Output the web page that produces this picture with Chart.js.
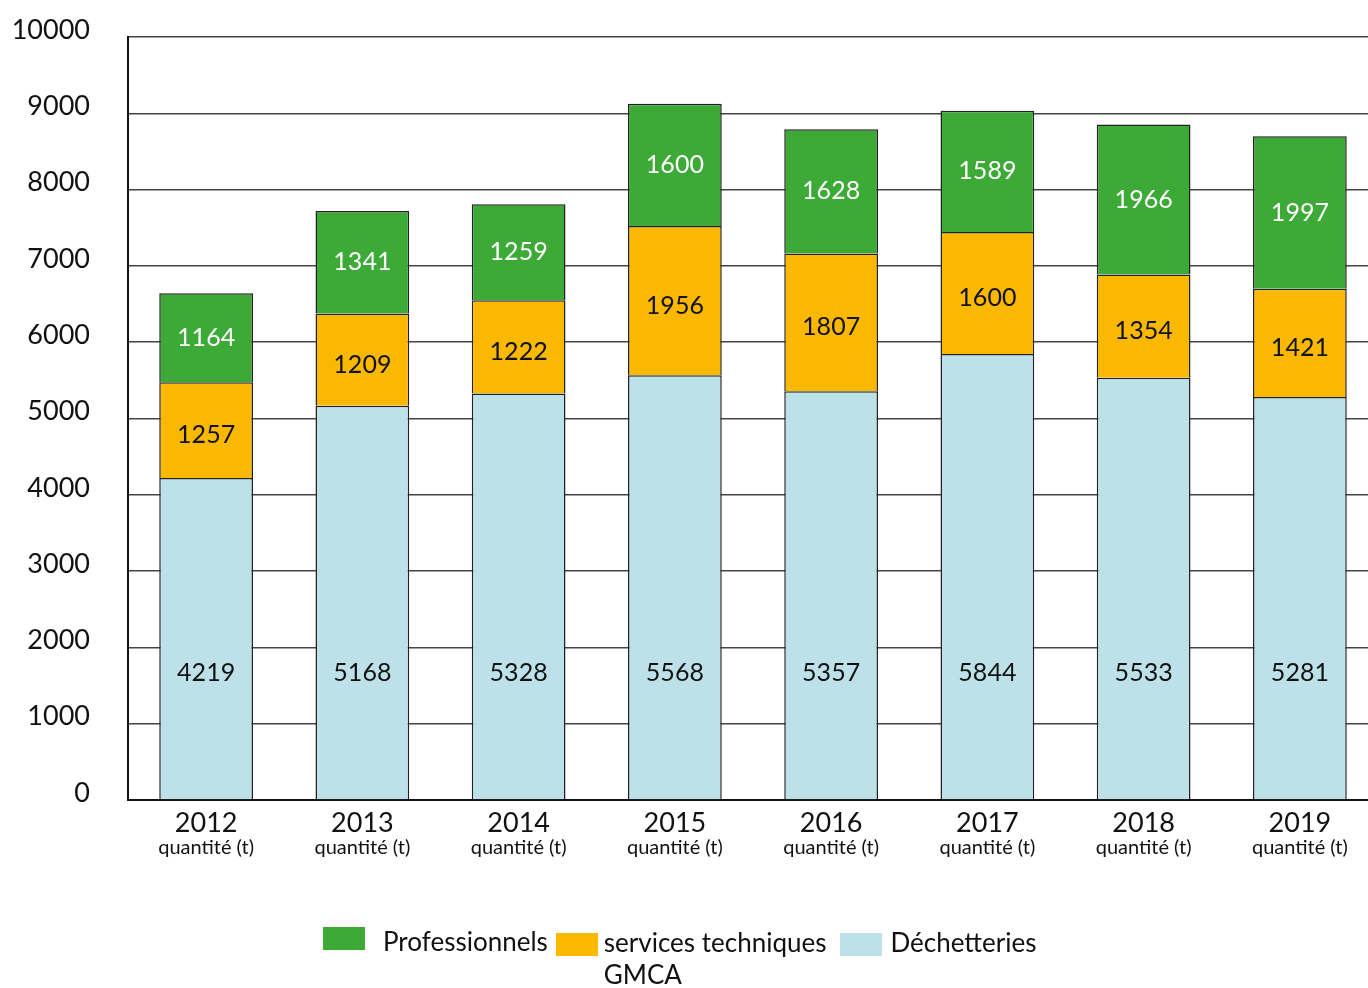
<!DOCTYPE html>
<html>
<head>
<meta charset="utf-8">
<script src="https://cdn.jsdelivr.net/npm/chart.js@4"></script>
<style>
  body { margin: 0; background: #fff; }
  #wrap { position: relative; width: 1368px; height: 988px; overflow: hidden; }
  #legende { position: absolute; left: 323px; top: 927px; display: flex; align-items: flex-start;
    font-family: Lato, sans-serif; font-size: 26px; color: #111; }
  .item { display: flex; align-items: flex-start; }
  .carre { width: 42px; height: 23px; flex: none; }
  .texte { line-height: 32px; }
</style>
</head>
<body>
<div id="wrap">
  <canvas id="graphique" width="1378" height="988"></canvas>
  <div id="legende"></div>
</div>
<script>
const annees = ['2012', '2013', '2014', '2015', '2016', '2017', '2018', '2019'];
const sousTitre = 'quantité (t)';
const dechetteries = [4219, 5168, 5328, 5568, 5357, 5844, 5533, 5281];
const servicesTechniques = [1257, 1209, 1222, 1956, 1807, 1600, 1354, 1421];
const professionnels = [1164, 1341, 1259, 1600, 1628, 1589, 1966, 1997];
const graduations = [0, 1000, 2000, 3000, 4000, 5000, 6000, 7000, 8000, 9000, 10000];

const police = 'Lato, sans-serif';

// etiquettes des valeurs dans les barres
const etiquettes = {
    id: 'etiquettes',
    afterDatasetsDraw(chart) {
        const ctx = chart.ctx;
        const y = chart.scales.y;
        ctx.save();
        ctx.font = '25px ' + police;
        ctx.textAlign = 'center';
        ctx.textBaseline = 'middle';
        chart.data.datasets.forEach((ds, i) => {
            chart.getDatasetMeta(i).data.forEach((bar, j) => {
                let py;
                if (i === 0) {
                    py = y.getPixelForValue(1660);
                } else {
                    py = (bar.y + bar.base) / 2 + (i === 1 ? 5 : 0);
                }
                ctx.fillStyle = i === 2 ? '#fff' : '#111';
                ctx.fillText(ds.data[j], bar.x, py);
            });
        });
        ctx.restore();
    },
    afterDraw(chart) {
        const ctx = chart.ctx;
        const x = chart.scales.x;
        ctx.save();
        ctx.font = '20px ' + police;
        ctx.textAlign = 'center';
        ctx.textBaseline = 'middle';
        ctx.fillStyle = '#111';
        annees.forEach((a, i) => {
            ctx.fillText(sousTitre, x.getPixelForTick(i), 848);
        });
        ctx.restore();
    }
};

const ctx = document.getElementById('graphique').getContext('2d');
const graphique = new Chart(ctx, {
    type: 'bar',
    data: {
        labels: annees,
        datasets: [{
            label: 'Déchetteries',
            data: dechetteries,
            backgroundColor: '#BDE1E8',
            borderColor: '#222',
            borderWidth: 1.5
        }, {
            label: 'services techniques\nGMCA',
            data: servicesTechniques,
            backgroundColor: '#FAB800',
            borderColor: '#222',
            borderWidth: 1.5
        }, {
            label: 'Professionnels',
            data: professionnels,
            backgroundColor: '#3DAA37',
            borderColor: '#222',
            borderWidth: 1.5
        }]
    },
    options: {
        responsive: false,
        animation: false,
        layout: { padding: { top: 37, right: 0, left: 0, bottom: 0 } },
        plugins: {
            legend: { display: false },
            tooltip: { enabled: false }
        },
        datasets: { bar: { categoryPercentage: 1, barPercentage: 0.6 } },
        scales: {
            x: {
                stacked: true,
                grid: { display: false, drawTicks: false },
                border: { color: '#111', width: 2 },
                ticks: { color: '#111', font: { family: police, size: 27 }, padding: 7 },
                afterFit(s) { s.height = 188; s.paddingLeft = 0; s.paddingRight = 0; }
            },
            y: {
                stacked: true,
                min: 0,
                max: 10000,
                afterBuildTicks(s) { s.ticks = graduations.map(v => ({ value: v })); },
                grid: { color: '#444', lineWidth: 1.5, drawTicks: false },
                border: { color: '#111', width: 2 },
                ticks: {
                    color: '#111', font: { family: police, size: 27 }, padding: 38, labelOffset: -7,
                    callback: v => String(v)
                },
                afterFit(s) { s.width = 128; s.paddingTop = 0; s.paddingBottom = 0; }
            }
        }
    },
    plugins: [etiquettes]
});

// legende HTML, ordre inverse des series
const legende = document.getElementById('legende');
const marges = [[18, 8], [6, 14], [8, 0]];
graphique.data.datasets.slice().reverse().forEach((ds, k) => {
    const item = document.createElement('div');
    item.className = 'item';
    item.style.marginRight = marges[k][1] + 'px';
    const carre = document.createElement('div');
    carre.className = 'carre';
    carre.style.background = ds.backgroundColor;
    carre.style.marginRight = marges[k][0] + 'px';
    if (k > 0) carre.style.marginTop = '6px';
    const texte = document.createElement('div');
    texte.className = 'texte';
    texte.style.marginTop = k > 0 ? '-1px' : '-2px';
    texte.innerHTML = ds.label.replace('\n', '<br>');
    item.appendChild(carre);
    item.appendChild(texte);
    legende.appendChild(item);
});
</script>
</body>
</html>
